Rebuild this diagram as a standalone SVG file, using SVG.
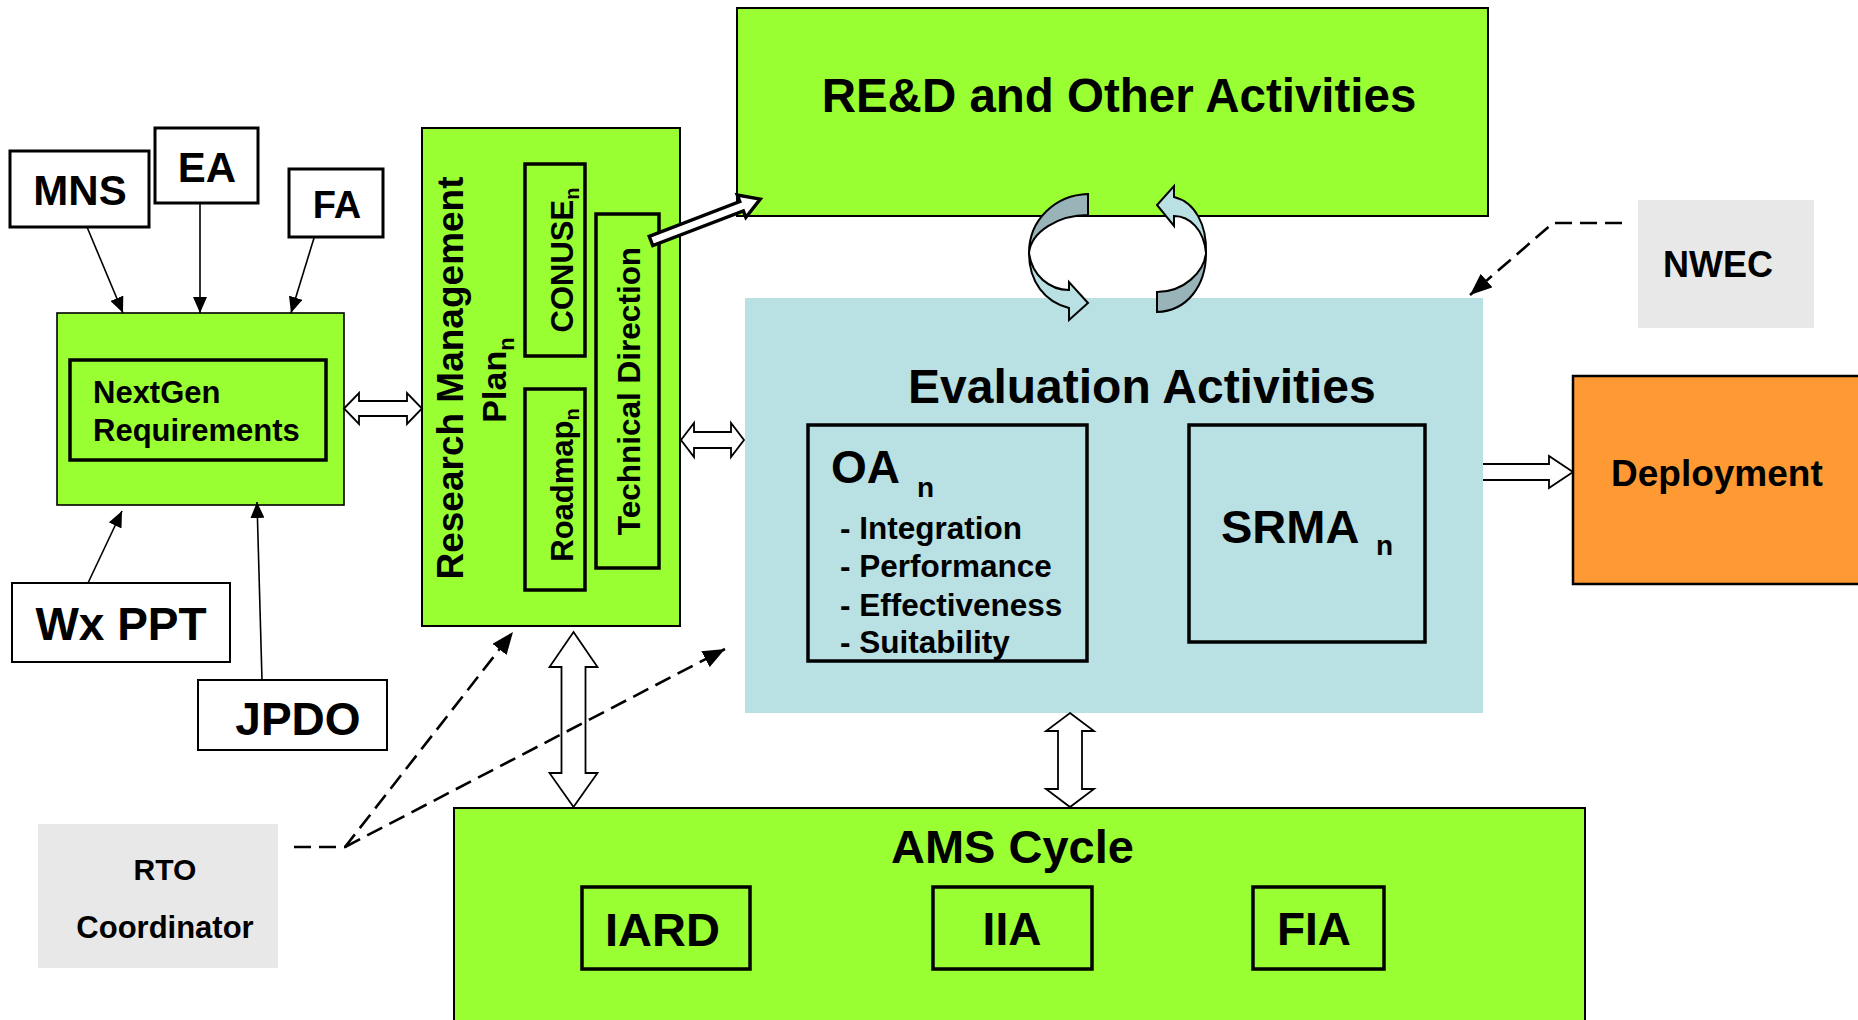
<svg xmlns="http://www.w3.org/2000/svg" width="1858" height="1020" viewBox="0 0 1858 1020">
<style>
text{font-family:"Liberation Sans",Arial,Helvetica,sans-serif;font-weight:bold;fill:#000}
.wb{fill:#fff;stroke:#000;stroke-width:3}
.wbt{fill:#fff;stroke:#000;stroke-width:2}
.g{fill:#99FF33;stroke:#000;stroke-width:2}
.gi{fill:#99FF33;stroke:#000;stroke-width:3.5}
.b{fill:#B9E0E3;stroke:#000;stroke-width:3.5}
.gray{fill:#E8E8E8;stroke:none}
.ln{fill:none;stroke:#000;stroke-width:1.6}
.dl{fill:none;stroke:#000;stroke-width:2.6;stroke-dasharray:17 8}
.ho{fill:#fff;stroke:#000;stroke-width:1.8;stroke-linejoin:miter}
.hd{fill:#fff;stroke:#000;stroke-width:3.4;stroke-linejoin:miter}
.cl{fill:#B9E0E3;stroke:#000;stroke-width:2}
.cd{fill:#99B4B9;stroke:#000;stroke-width:2}
</style>
<defs>
<marker id="ah" viewBox="0 0 16 14" refX="16" refY="7" markerWidth="16" markerHeight="14" markerUnits="userSpaceOnUse" orient="auto"><path d="M0,0 L16,7 L0,14 Z" fill="#000"/></marker>
<marker id="ahd" viewBox="0 0 22 18" refX="22" refY="9" markerWidth="22" markerHeight="18" markerUnits="userSpaceOnUse" orient="auto"><path d="M0,0 L22,9 L0,18 Z" fill="#000"/></marker>
</defs>
<rect width="1858" height="1020" fill="#fff"/>

<g id="red">
<rect class="g" x="737" y="8" width="751" height="208"/>
<text x="1119" y="112" font-size="47.5" text-anchor="middle">RE&amp;D and Other Activities</text>
</g>

<g id="evaluation">
<rect x="745" y="298" width="738" height="415" fill="#B9E0E3"/>
<text x="908" y="403" font-size="48">Evaluation Activities</text>
</g>

<g id="oa">
<rect class="b" x="808" y="425" width="279" height="236"/>
<text x="831" y="483" font-size="46">OA<tspan x="917" y="497" font-size="28">n</tspan></text>
<text x="840" y="539" font-size="31.5">- Integration</text>
<text x="840" y="577" font-size="31.5">- Performance</text>
<text x="840" y="616" font-size="31.5">- Effectiveness</text>
<text x="840" y="653" font-size="31.5">- Suitability</text>
</g>

<g id="srma">
<rect class="b" x="1189" y="425" width="236" height="217"/>
<text x="1221" y="543" font-size="47">SRMA<tspan x="1376" y="555" font-size="28">n</tspan></text>
</g>

<g id="deployment">
<rect x="1573" y="376" width="290" height="208" fill="#FF9933" stroke="#000" stroke-width="2.5"/>
<text x="1611" y="486" font-size="37">Deployment</text>
</g>

<g id="nwec">
<rect class="gray" x="1638" y="200" width="176" height="128"/>
<text x="1663" y="277" font-size="36">NWEC</text>
</g>

<g id="mns">
<rect class="wb" x="10" y="151" width="139" height="76"/>
<text x="80" y="205" font-size="42" text-anchor="middle">MNS</text>
</g>
<g id="ea">
<rect class="wb" x="155" y="128" width="103" height="75"/>
<text x="207" y="182" font-size="42" text-anchor="middle">EA</text>
</g>
<g id="fa">
<rect class="wb" x="289" y="169" width="94" height="68"/>
<text x="337" y="218" font-size="38" text-anchor="middle">FA</text>
</g>

<g id="nextgen">
<rect x="57" y="313" width="287" height="192" fill="#99FF33" stroke="#000" stroke-width="1.6"/>
<rect class="gi" x="70" y="360" width="256" height="100"/>
<text x="93" y="403" font-size="31">NextGen</text>
<text x="93" y="441" font-size="31">Requirements</text>
</g>

<g id="wxppt">
<rect class="wbt" x="12" y="583" width="218" height="79"/>
<text x="121" y="640" font-size="46" text-anchor="middle">Wx PPT</text>
</g>
<g id="jpdo">
<rect class="wbt" x="198" y="680" width="189" height="70"/>
<text x="298" y="735" font-size="46" text-anchor="middle">JPDO</text>
</g>

<g id="rmp">
<rect class="g" x="422" y="128" width="258" height="498"/>
<text transform="translate(463,378) rotate(-90)" font-size="37" text-anchor="middle">Research Management</text>
<text transform="translate(506,380) rotate(-90)" font-size="34" text-anchor="middle">Plan<tspan font-size="22" dy="8">n</tspan></text>
</g>
<g id="conuse">
<rect class="gi" x="525" y="164" width="60" height="192"/>
<text transform="translate(573,260) rotate(-90)" font-size="31" text-anchor="middle">CONUSE<tspan font-size="20" dy="6">n</tspan></text>
</g>
<g id="roadmap">
<rect class="gi" x="525" y="389" width="60" height="201"/>
<text transform="translate(573,485) rotate(-90)" font-size="31" text-anchor="middle">Roadmap<tspan font-size="20" dy="6">n</tspan></text>
</g>
<g id="technical">
<rect class="gi" x="596" y="214" width="63" height="354"/>
<text transform="translate(640,391) rotate(-90)" font-size="31.5" text-anchor="middle">Technical Direction</text>
</g>

<g id="rto">
<rect class="gray" x="38" y="824" width="240" height="144"/>
<text x="165" y="880" font-size="30" text-anchor="middle">RTO</text>
<text x="165" y="938" font-size="31" text-anchor="middle">Coordinator</text>
</g>

<g id="ams">
<rect class="g" x="454" y="808" width="1131" height="220"/>
<text x="891" y="863" font-size="47">AMS Cycle</text>
</g>
<g id="iard">
<rect class="gi" x="582" y="887" width="168" height="82"/>
<text x="605" y="946" font-size="47">IARD</text>
</g>
<g id="iia">
<rect class="gi" x="933" y="887" width="159" height="82"/>
<text x="1012" y="945" font-size="46" text-anchor="middle">IIA</text>
</g>
<g id="fia">
<rect class="gi" x="1253" y="887" width="131" height="82"/>
<text x="1314" y="945" font-size="46" text-anchor="middle">FIA</text>
</g>

<g id="connectors">
<line class="ln" x1="87" y1="227" x2="123" y2="313" marker-end="url(#ah)"/>
<line class="ln" x1="200" y1="204" x2="200" y2="313" marker-end="url(#ah)"/>
<line class="ln" x1="314" y1="238" x2="291" y2="313" marker-end="url(#ah)"/>
<line class="ln" x1="88" y1="583" x2="122" y2="511" marker-end="url(#ah)"/>
<line class="ln" x1="262" y1="680" x2="257" y2="502" marker-end="url(#ah)"/>

<path class="ho" d="M344,408.5 L359,393 L359,401 L407,401 L407,393 L422,408.5 L407,424 L407,416 L359,416 L359,424 Z"/>
<path class="ho" d="M681,440 L694,423 L694,432 L731,432 L731,423 L744,440 L731,457 L731,448 L694,448 L694,457 Z"/>
<path class="ho" d="M573.5,632 L597.5,667 L585.5,667 L585.5,773 L597.5,773 L573.5,807 L549.5,773 L561.5,773 L561.5,667 L549.5,667 Z"/>
<path class="ho" d="M1070,713 L1094,731 L1082,731 L1082,789 L1094,789 L1070,807 L1046,789 L1058,789 L1058,731 L1046,731 Z"/>
<path class="ho" d="M1483,464 L1549,464 L1549,456 L1573,472 L1549,488 L1549,480 L1483,480"/>

<path class="hd" transform="translate(651,241) rotate(-21)" d="M0,-5 L97,-5 L97,-12 L117,0 L97,12 L97,5 L0,5 Z"/>

<path class="cd" d="M1088,194 C1055,195 1029,220 1029,253 C1031,232 1058,215 1088,215 Z"/>
<path class="cl" d="M1029,253 C1032,276 1050,290 1069,290 L1069,282 L1088,303 L1069,320 L1069,308 C1045,302 1029,282 1029,253 Z"/>
<path class="cd" d="M1157,312 C1187,311 1206,286 1206,253 C1204,272 1184,292 1157,292 Z"/>
<path class="cl" d="M1206,253 C1204,230 1190,216 1174,216 L1174,226 L1157,205 L1174,186 L1174,197 C1195,202 1207,225 1206,253 Z"/>

<path class="dl" d="M1622,223 L1553,223 L1470,295" marker-end="url(#ahd)"/>
<path class="dl" d="M294,847 L345,847 L513,632" marker-end="url(#ahd)"/>
<path class="dl" d="M345,847 L725,649" marker-end="url(#ahd)"/>
</g>
</svg>
